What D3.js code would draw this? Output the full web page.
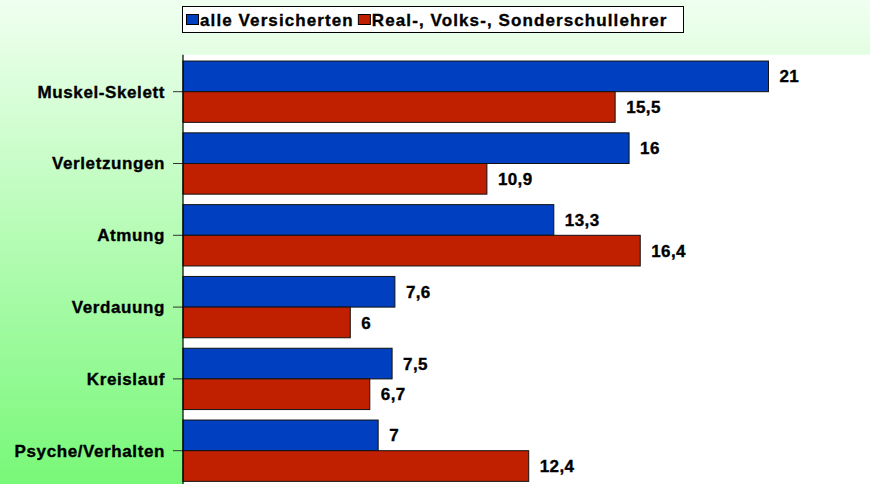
<!DOCTYPE html>
<html>
<head>
<meta charset="utf-8">
<script src="https://cdn.jsdelivr.net/npm/d3@7"></script>
<style>
  html, body { margin: 0; padding: 0; background: #fff; }
  svg { display: block; }
  text { font-family: "Liberation Sans", Arial, sans-serif; font-weight: bold; fill: #000; stroke: #000; stroke-width: 0.35px; }
</style>
</head>
<body>
<svg id="chart" width="870" height="484"></svg>
<script>
const categories = ["Muskel-Skelett", "Verletzungen", "Atmung", "Verdauung", "Kreislauf", "Psyche/Verhalten"];
const seriesNames = ["alle Versicherten", "Real-, Volks-, Sonderschullehrer"];
const allInsured = [21, 16, 13.3, 7.6, 7.5, 7];
const teachers = [15.5, 10.9, 16.4, 6, 6.7, 12.4];
const seriesColors = ["#0040c0", "#c02000"];

const W = 870, H = 484;
const svg = d3.select("#chart");

// background gradient
const defs = svg.append("defs");
const grad = defs.append("linearGradient").attr("id", "bg").attr("x1", 0).attr("y1", 0).attr("x2", 0).attr("y2", 1);
grad.append("stop").attr("offset", "0%").attr("stop-color", "#f0fff0");
grad.append("stop").attr("offset", "100%").attr("stop-color", "#78f878");
svg.append("rect").attr("width", W).attr("height", H).attr("fill", "url(#bg)");

const plot = { left: 183, top: 55.8, right: 880, bottom: 486.6 };

// white plot area
svg.append("rect")
  .attr("x", plot.left).attr("y", plot.top - 1)
  .attr("width", W - plot.left).attr("height", H - plot.top + 1)
  .attr("fill", "#fff");

const x = d3.scaleLinear().domain([0, 25]).range([plot.left, plot.right]);
const y0 = d3.scaleBand().domain(categories).range([plot.top, plot.bottom])
  .paddingInner(0.146).paddingOuter(0.073);
const y1 = d3.scaleBand().domain(seriesNames).range([0, y0.bandwidth()]);

const data = categories.map((c, i) => ({ cat: c, vals: [allInsured[i], teachers[i]] }));

const groups = svg.append("g").selectAll("g").data(data).join("g")
  .attr("transform", d => `translate(0,${y0(d.cat)})`);

groups.selectAll("rect").data(d => d.vals.map((v, j) => ({ v, j })))
  .join("rect")
  .attr("x", x(0))
  .attr("y", d => y1(seriesNames[d.j]))
  .attr("width", d => x(d.v) - x(0))
  .attr("height", y1.bandwidth())
  .attr("fill", d => seriesColors[d.j])
  .attr("stroke", "#111")
  .attr("stroke-width", 1);

groups.selectAll("text.val").data(d => d.vals.map((v, j) => ({ v, j })))
  .join("text")
  .attr("class", "val")
  .attr("x", d => x(d.v) + 11)
  .attr("y", d => y1(seriesNames[d.j]) + y1.bandwidth() / 2)
  .attr("dy", "0.36em")
  .style("font-size", "17px")
  .style("letter-spacing", "0.4px")
  .text(d => String(d.v).replace(".", ","));

// axis
const axis = d3.axisLeft(y0).tickSize(10).tickPadding(8);
const ag = svg.append("g").attr("transform", `translate(${plot.left},0)`).call(axis);
ag.select(".domain").remove();
ag.selectAll(".tick line").attr("stroke", "#333");
ag.selectAll(".tick text")
  .style("font-size", "17px")
  .style("letter-spacing", "0.6px")
  .style("font-family", "'Liberation Sans', Arial, sans-serif")
  .style("font-weight", "bold")
  .attr("dy", "0.35em")
  .attr("fill", "#000");
svg.append("line")
  .attr("x1", plot.left).attr("x2", plot.left)
  .attr("y1", plot.top - 1).attr("y2", H)
  .attr("stroke", "#000").attr("stroke-width", 1.2);

// legend
const lg = svg.append("g");
const box = lg.append("rect").attr("x", 182.5).attr("y", 6.5).attr("height", 26)
  .attr("fill", "#fff").attr("stroke", "#000").attr("stroke-width", 1);
let cx = 186;
seriesNames.forEach((name, i) => {
  lg.append("rect").attr("x", cx + 0.5).attr("y", 14.5).attr("width", 12).attr("height", 10)
    .attr("fill", seriesColors[i]).attr("stroke", "#000").attr("stroke-width", 1);
  const t = lg.append("text").attr("x", cx + 14).attr("y", 26)
    .style("font-size", "17px").style("letter-spacing", "1.1px").text(name);
  cx = cx + 14 + t.node().getComputedTextLength() + 4;
});
box.attr("width", cx - 182.5 + 12);
</script>
</body>
</html>
